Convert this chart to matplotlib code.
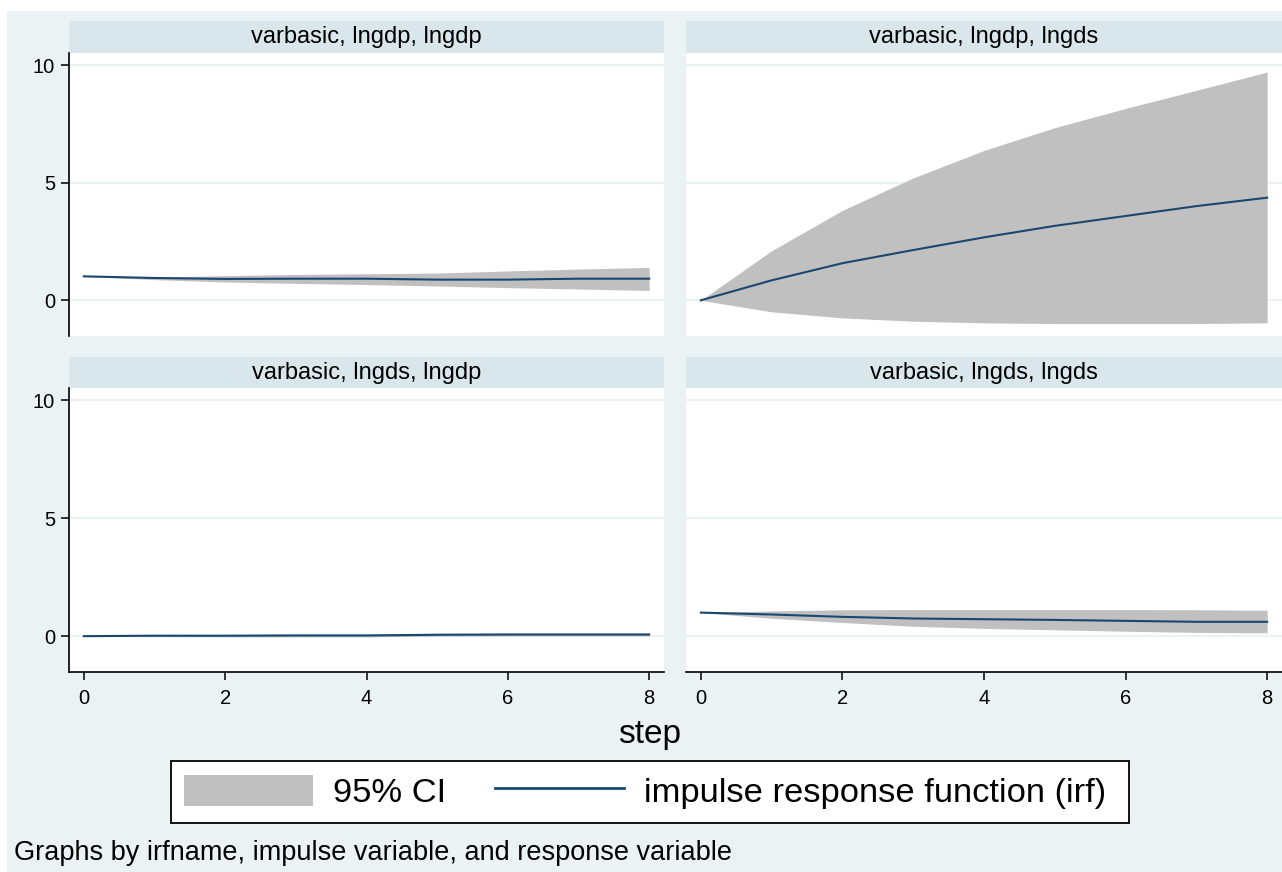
import matplotlib
matplotlib.use("Agg")
import matplotlib.pyplot as plt
from matplotlib.patches import Rectangle, Patch
from matplotlib.lines import Line2D

plt.rcParams['font.family'] = ['Liberation Sans', 'DejaVu Sans']

# ---------------- data ----------------
steps = [0, 1, 2, 3, 4, 5, 6, 7, 8]

titles = ["varbasic, lngdp, lngdp", "varbasic, lngdp, lngds",
          "varbasic, lngds, lngdp", "varbasic, lngds, lngds"]

irf_gdp_gdp = [1.02, 0.95, 0.91, 0.92, 0.92, 0.88, 0.88, 0.92, 0.92]
lo_gdp_gdp = [1.02, 0.88, 0.78, 0.72, 0.67, 0.61, 0.54, 0.48, 0.42]
hi_gdp_gdp = [1.02, 0.99, 1.05, 1.10, 1.13, 1.16, 1.25, 1.33, 1.40]

irf_gdp_gds = [0.0, 0.85, 1.58, 2.14, 2.68, 3.17, 3.59, 4.01, 4.37]
lo_gdp_gds = [0.0, -0.49, -0.75, -0.89, -0.96, -0.99, -0.99, -0.99, -0.96]
hi_gdp_gds = [0.0, 2.11, 3.83, 5.21, 6.38, 7.35, 8.17, 8.94, 9.72]

irf_gds_gdp = [0.0, 0.02, 0.02, 0.03, 0.03, 0.06, 0.07, 0.07, 0.07]
lo_gds_gdp = [0.0, -0.02, -0.03, -0.03, -0.03, 0.00, 0.01, 0.01, 0.01]
hi_gds_gdp = [0.0, 0.06, 0.07, 0.09, 0.09, 0.12, 0.13, 0.13, 0.13]

irf_gds_gds = [1.00, 0.92, 0.82, 0.75, 0.72, 0.69, 0.65, 0.61, 0.61]
lo_gds_gds = [1.00, 0.76, 0.58, 0.42, 0.33, 0.27, 0.21, 0.16, 0.14]
hi_gds_gds = [1.00, 1.07, 1.12, 1.13, 1.13, 1.13, 1.13, 1.12, 1.10]

irfs = [irf_gdp_gdp, irf_gdp_gds, irf_gds_gdp, irf_gds_gds]
los = [lo_gdp_gdp, lo_gdp_gds, lo_gds_gdp, lo_gds_gds]
his = [hi_gdp_gdp, hi_gdp_gds, hi_gds_gdp, hi_gds_gds]

yticks = [0, 5, 10]
xticks = [0, 2, 4, 6, 8]

# ---------------- style ----------------
BG = "#EAF2F3"
STRIP = "#D9E6EB"
CI = "#C0C0C0"
LINE = "#1A476F"
GRID = "#EAF2F3"

W, H = 1282, 872
fig = plt.figure(figsize=(W / 100, H / 100), dpi=100, facecolor="white")

# outer graph region background
fig.patches.append(Rectangle((7 / W, 0), 1 - 7 / W, 1 - 11 / H,
                             transform=fig.transFigure, facecolor=BG,
                             edgecolor="none", zorder=-10))


def rect(x0, y0, x1, y1):
    return [x0 / W, 1 - y1 / H, (x1 - x0) / W, (y1 - y0) / H]


cols = [(69, 664), (686, 1282)]
rows = [(21, 53, 336), (357, 388, 672)]

for i in range(4):
    r, c = divmod(i, 2)
    x0, x1 = cols[c]
    s0, p0, p1 = rows[r]
    ax = fig.add_axes(rect(x0, p0, x1, p1))
    ax.set_zorder(1)
    ax.set_facecolor("white")
    ax.fill_between(steps, los[i], his[i], color=CI, linewidth=0, zorder=2)
    ax.plot(steps, irfs[i], color=LINE, linewidth=1.5, zorder=3)
    ax.set_xlim(-0.21, 8.21)
    ax.set_ylim(-1.52, 10.53)
    for yv in yticks:
        ax.axhline(yv, color=GRID, linewidth=1.6, zorder=1)
    for sp in ax.spines.values():
        sp.set_visible(False)
    ax.set_yticks(yticks)
    ax.set_xticks(xticks)
    if c == 0:
        ax.spines['left'].set_visible(True)
        ax.spines['left'].set_linewidth(1.2)
        ax.spines['left'].set_color("black")
        ax.tick_params(axis='y', length=6, width=1.1, pad=4, labelsize=14.5,
                       colors="black")
    else:
        ax.tick_params(axis='y', left=False, labelleft=False)
    if r == 1:
        ax.spines['bottom'].set_visible(True)
        ax.spines['bottom'].set_linewidth(1.2)
        ax.spines['bottom'].set_color("black")
        ax.tick_params(axis='x', length=6, width=1.1, pad=6, labelsize=14.5,
                       colors="black")
    else:
        ax.tick_params(axis='x', bottom=False, labelbottom=False)
    # strip
    fig.patches.append(Rectangle((x0 / W, 1 - p0 / H), (x1 - x0) / W,
                                 (p0 - s0) / H, transform=fig.transFigure,
                                 facecolor=STRIP, edgecolor="none", zorder=-5))
    fig.text((x0 + x1) / 2 / W, 1 - (s0 + p0) / 2 / H, titles[i],
             ha="center", va="center", fontsize=17, color="black")

# x axis title
fig.text(650 / W, 1 - 735 / H, "step", ha="center", va="center", fontsize=24)

# legend
handles = [Patch(facecolor=CI, edgecolor="none"),
           Line2D([0], [0], color=LINE, linewidth=2)]
leg = fig.legend(handles, ["95% CI", "impulse response function (irf) "],
                 loc="center", bbox_to_anchor=(650 / W, 1 - 792 / H),
                 ncol=2, fontsize=24.8, frameon=True, fancybox=False,
                 edgecolor="black", framealpha=1, handlelength=3.75,
                 handleheight=1.0, handletextpad=0.58, columnspacing=1.4,
                 borderpad=0.4, borderaxespad=0)
leg.get_frame().set_linewidth(1.3)
leg.get_frame().set_facecolor("white")
leg.set_zorder(5)

# caption
fig.text(14 / W, 1 - 853 / H,
         "Graphs by irfname, impulse variable, and response variable",
         ha="left", va="center", fontsize=19.5)

fig.savefig("out.png", dpi=100, facecolor="white")
